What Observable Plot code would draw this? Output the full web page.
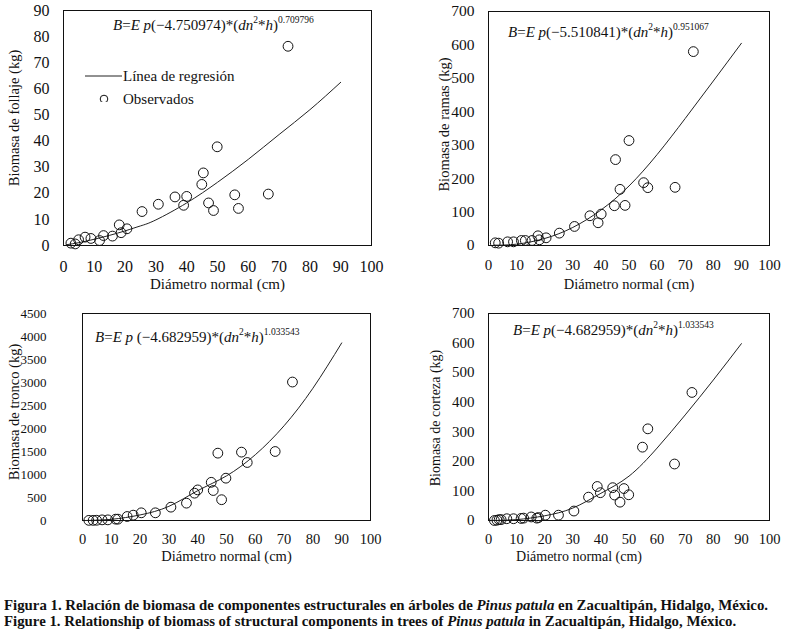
<!DOCTYPE html>
<html><head><meta charset="utf-8">
<script src="https://cdn.jsdelivr.net/npm/d3@7"></script>
<script src="https://cdn.jsdelivr.net/npm/@observablehq/plot@0.6"></script>
<style>
body{margin:0;background:#fff}
#fig{position:relative;width:789px;height:641px;overflow:hidden;color:#111;background:#fff}
.panel{position:absolute}
.formula{position:absolute;font-size:15px;white-space:nowrap;line-height:1}
.formula sup{font-size:9.5px;vertical-align:0;position:relative;top:-0.7em}
.leg{position:absolute;font-size:15px;white-space:nowrap;line-height:1}
.caption{position:absolute;left:4px;font-weight:bold;font-size:14px;white-space:nowrap;transform-origin:0 0;line-height:1}
</style></head>
<body>
<div id="fig"></div>
<script>
// ---- Data ----
const xTicks = [0,10,20,30,40,50,60,70,80,90,100];

// Foliage
const dnFollaje = [2.4,3.8,4.9,7.0,8.9,11.7,13.0,15.9,18.1,18.7,20.6,25.5,30.8,36.2,39.0,40.0,44.9,45.4,47.1,48.7,49.9,55.6,56.8,66.5,72.9];
const bFollaje  = [0.9,0.6,2.2,3.2,2.7,1.9,3.8,3.6,7.9,4.9,6.4,13.0,15.8,18.6,15.4,18.8,23.4,27.8,16.3,13.4,37.8,19.4,14.2,19.7,76.3];
const fitDnFollaje = [1,5,10,15,20,25,30,40,50,60,70,80,90];
const fitBFollaje  = [0.3,1.1,2.4,3.9,5.6,7.5,9.8,16.3,24.2,33,42.5,52,62.5];
const yTicksFollaje = [0,10,20,30,40,50,60,70,80,90];

// Branches
const dnRamas = [2.4,3.6,6.8,8.9,11.7,13.1,15.5,17.6,18.1,20.5,25.2,30.6,36.1,39.0,40.1,44.8,45.2,46.8,48.6,50.0,55.2,56.7,66.4,72.9];
const bRamas  = [8,7,11,11,15,15,15,29,17,23,37,57,89,68,94,119,257,168,120,314,188,173,174,580];
const fitDnRamas = [2,10,20,30,40,50,60,70,80,90];
const fitBRamas  = [1,4,21,54,106,178,272,380,492,605];
const yTicksRamas = [0,100,200,300,400,500,600,700];

// Trunk
const dnTronco = [2.2,3.7,4.9,6.8,8.8,11.5,12.3,15.5,17.6,20.4,25.3,30.7,36.1,38.9,40.0,44.7,45.4,47.0,48.3,49.8,55.2,57.2,66.9,72.9];
const bTronco  = [3,3,5,14,14,29,29,87,116,167,167,290,377,594,665,830,652,1464,452,920,1486,1261,1500,3010];
const fitDnTronco = [1,10,20,30,40,50,60,70,80,90];
const fitBTronco  = [0,25,121,308,648,970,1430,2060,2875,3860];
const yTicksTronco = [0,500,1000,1500,2000,2500,3000,3500,4000,4500];

// Bark
const dnCorteza = [2.1,3.0,3.8,4.5,6.5,8.9,11.6,12.5,15.2,17.2,17.8,20.2,24.9,30.4,35.6,38.7,39.8,44.2,44.9,46.8,48.2,49.9,54.8,56.7,66.2,72.4];
const bCorteza  = [0,1,3,3,6,6,7,8,12,8,10,18,18,32,79,115,94,111,86,62,108,87,248,310,191,433];
const fitDnCorteza = [1,10,20,30,40,50,60,70,80,90];
const fitBCorteza  = [0,3,16,42,92,150,245,357,475,598];
const yTicksCorteza = [0,100,200,300,400,500,600,700];

const xLabel = "Diámetro normal (cm)";
const FONT = '"Liberation Serif"';

const fig = document.getElementById("fig");
fig.style.fontFamily = FONT;

function panel(c) {
  const pts = c.dn.map((d, i) => ({dn: d, b: c.b[i]}));
  const fit = c.fitDn.map((d, i) => ({dn: d, b: c.fitB[i]}));
  const svg = Plot.plot({
    width: c.w, height: c.h,
    marginLeft: c.ml, marginRight: c.mr, marginTop: c.mt, marginBottom: c.mb,
    x: {domain: [0, 100]},
    y: {domain: [0, c.ymax]},
    style: {fontFamily: FONT, color: "#111", background: "transparent", overflow: "visible"},
    marks: [
      Plot.axisX({ticks: xTicks, tickSize: 0, tickPadding: c.xpad, tickFormat: d => String(d), label: null, fontSize: c.xfs, fontFamily: FONT}),
      Plot.axisY({ticks: c.yTicks, tickSize: 0, tickPadding: c.ypad, tickFormat: d => String(d), label: null, fontSize: c.yfs, fontFamily: FONT, letterSpacing: c.yls || 0}),
      Plot.frame({stroke: "#111", strokeWidth: 1}),
      Plot.line(fit, {x: "dn", y: "b", curve: "natural", stroke: "#222", strokeWidth: 1}),
      Plot.dot(pts, {x: "dn", y: "b", r: 4.9, stroke: "#111", strokeWidth: 1, fill: "none"}),
      Plot.text([xLabel], {text: d => d, frameAnchor: "bottom", textAnchor: "middle", lineAnchor: "middle", dy: c.xldy, dx: c.xldx || 0, fontSize: c.xlfs, fontFamily: FONT, fill: "#111"}),
      Plot.text([c.yLabel], {text: d => d, frameAnchor: "left", textAnchor: "middle", lineAnchor: "middle", rotate: -90, dx: c.yldx, dy: c.yldy, fontSize: c.ylfs, fontFamily: FONT, fill: "#111"})
    ]
  });
  svg.classList.add("panel");
  svg.style.left = c.left + "px";
  svg.style.top = c.top + "px";
  svg.style.fontFamily = FONT;
  fig.appendChild(svg);
}

panel({left: 0, top: 0, w: 395, h: 295, ml: 63, mr: 24, mt: 10, mb: 50,
  dn: dnFollaje, b: bFollaje, fitDn: fitDnFollaje, fitB: fitBFollaje, ymax: 90, yTicks: yTicksFollaje,
  xpad: 15, ypad: 14, xfs: 16, yfs: 16, xlfs: 15, ylfs: 14.5, xldy: 39, yldx: -49, yldy: -10,
  yLabel: "Biomasa de follaje (kg)"});
panel({left: 395, top: 0, w: 394, h: 295, ml: 93, mr: 20, mt: 11, mb: 50,
  dn: dnRamas, b: bRamas, fitDn: fitDnRamas, fitB: fitBRamas, ymax: 700, yTicks: yTicksRamas,
  xpad: 14, ypad: 14, xfs: 15, yfs: 15.5, xlfs: 14.5, ylfs: 14.5, xldy: 39, yldx: -44, yldy: -4,
  yLabel: "Biomasa de ramas (kg)"});
panel({left: 0, top: 295, w: 395, h: 270, ml: 82, mr: 25, mt: 18, mb: 45,
  dn: dnTronco, b: bTronco, fitDn: fitDnTronco, fitB: fitBTronco, ymax: 4500, yTicks: yTicksTronco,
  xpad: 13, ypad: 36, xfs: 14.5, yfs: 13, yls: -0.6, xlfs: 14.5, ylfs: 14.5, xldy: 36, yldx: -68, yldy: -5,
  yLabel: "Biomasa de tronco (kg)"});
panel({left: 395, top: 295, w: 394, h: 270, ml: 93, mr: 20, mt: 18, mb: 45,
  dn: dnCorteza, b: bCorteza, fitDn: fitDnCorteza, fitB: fitBCorteza, ymax: 700, yTicks: yTicksCorteza,
  xpad: 13, ypad: 14, xfs: 14.5, yfs: 15, xlfs: 14, ylfs: 14, xldy: 36, xldx: -50, yldx: -53, yldy: 1,
  yLabel: "Biomasa de corteza (kg)"});

// ---- Formulas (annotations) ----
function formula(left, top, html) {
  const d = document.createElement("div");
  d.className = "formula";
  d.style.fontFamily = FONT;
  d.style.left = left + "px"; d.style.top = top + "px";
  d.innerHTML = html;
  fig.appendChild(d);
}
formula(113, 18, '<i>B</i>=<i>E p</i>(−4.750974)*(<i>dn</i><sup>2</sup>*<i>h</i>)<sup>0.709796</sup>');
formula(508, 25, '<i>B</i>=<i>E p</i>(−5.510841)*(<i>dn</i><sup>2</sup>*<i>h</i>)<sup>0.951067</sup>');
formula(95, 330, '<i>B</i>=<i>E p</i> (−4.682959)*(<i>dn</i><sup>2</sup>*<i>h</i>)<sup>1.033543</sup>');
formula(513, 323, '<i>B</i>=<i>E p</i>(−4.682959)*(<i>dn</i><sup>2</sup>*<i>h</i>)<sup>1.033543</sup>');

// ---- Legend (panel 1) ----
const legSvg = document.createElementNS("http://www.w3.org/2000/svg", "svg");
legSvg.setAttribute("width", 40); legSvg.setAttribute("height", 32);
legSvg.style.position = "absolute"; legSvg.style.left = "84px"; legSvg.style.top = "70px";
legSvg.innerHTML = '<line x1="1" x2="38" y1="6" y2="6" stroke="#222" stroke-width="1"/>' +
  '<circle cx="20" cy="29" r="3.8" fill="none" stroke="#111" stroke-width="1"/>';
fig.appendChild(legSvg);
[["Línea de regresión", 69], ["Observados", 92]].forEach(([t, y]) => {
  const d = document.createElement("div");
  d.className = "leg"; d.style.fontFamily = FONT;
  d.style.left = "123px"; d.style.top = y + "px";
  d.textContent = t; fig.appendChild(d);
});

// ---- Caption ----
const cap1 = document.createElement("div");
cap1.className = "caption"; cap1.style.top = "599px"; cap1.style.fontFamily = FONT;
cap1.innerHTML = 'Figura 1. Relación de biomasa de componentes estructurales en árboles de <i>Pinus patula</i> en Zacualtipán, Hidalgo, México.';
const cap2 = document.createElement("div");
cap2.className = "caption"; cap2.style.top = "615px"; cap2.style.fontFamily = FONT;
cap2.innerHTML = 'Figure 1. Relationship of biomass of structural components in trees of <i>Pinus patula</i> in Zacualtipán, Hidalgo, México.';
fig.appendChild(cap1); fig.appendChild(cap2);
const w1 = cap1.getBoundingClientRect().width;
const s = 764 / w1;
cap1.style.transform = `scaleX(${s})`;
cap2.style.transform = `scaleX(${s})`;
</script>
</body></html>
